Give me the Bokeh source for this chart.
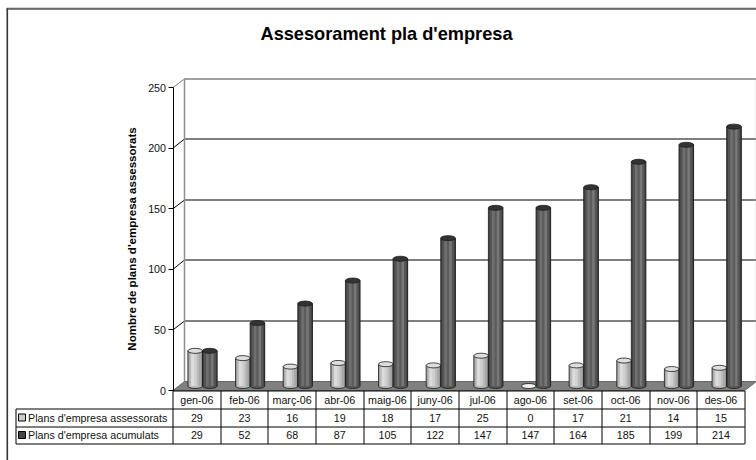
from bokeh.plotting import figure
from bokeh.models import LinearAxis, FixedTicker, Range1d, ColumnDataSource
from bokeh.core.properties import value
from bokeh.embed import file_html
from bokeh.resources import INLINE

months = ["gen-06", "feb-06", "març-06", "abr-06", "maig-06", "juny-06",
          "jul-06", "ago-06", "set-06", "oct-06", "nov-06", "des-06"]
assessorats = [29, 23, 16, 19, 18, 17, 25, 0, 17, 21, 14, 15]
acumulats = [29, 52, 68, 87, 105, 122, 147, 147, 164, 185, 199, 214]
y_ticks = [0, 50, 100, 150, 200, 250]
series_names = ["Plans d'empresa assessorats", "Plans d'empresa acumulats"]

FONT = value("Liberation Sans")
W, H = 756, 460
X0, XS = 172.5, 47.65      # page px of month 0, px per month
Y0, YS = 390.0, 1.212      # page px of value 0, px per unit


def ux(px):
    return (px - X0) / XS


def uy(py):
    return (Y0 - py) / YS


def snap_y(v):
    """Value to the centre of the nearest pixel row, for crisp one-pixel lines."""
    return uy(int(Y0 - v * YS) + 0.5)


def snap_x(u):
    return ux(int(X0 + u * XS) + 0.5)


p = figure(width=W, height=H, output_backend="svg", toolbar_location=None,
           x_axis_location=None, y_axis_location=None,
           x_range=Range1d(ux(0), ux(W)), y_range=Range1d(uy(H), uy(0)),
           min_border=0, outline_line_color=None)
p.grid.visible = False

DX, DY = 11.5, 9.0  # 3-D depth in px
back_x = X0 + DX
right_front = X0 + 12 * XS
right_back = right_front + DX


def seg(x0, y0, x1, y1, color="black", w=1.0):
    p.segment([x0], [y0], [x1], [y1], line_color=color, line_width=w)


# frame of the chart area
seg(ux(6), uy(7.5), ux(W), uy(7.5), "#aaaaaa", 1)
seg(ux(6), uy(8.5), ux(W), uy(8.5), "black", 1)
seg(ux(6.8), uy(8), ux(6.8), uy(H), "#333333", 1.6)

# walls
for t in y_ticks[1:]:
    top = t == y_ticks[-1]
    c = "#808080" if top else "black"
    yb = snap_y(t + DY / YS)
    seg(0, t, ux(back_x), yb, c, 1)
    seg(ux(back_x), yb, ux(right_back), yb, c, 1.4 if top else 1)
seg(ux(back_x), y_ticks[-1] + DY / YS, ux(back_x), DY / YS, "#909090", 1.5)
seg(ux(right_back), y_ticks[-1] + DY / YS, ux(right_back), DY / YS, "#b0b0b0", 1)

# floor
p.patch([0, 12, ux(right_back), ux(back_x)], [0, 0, DY / YS, DY / YS],
        fill_color="#808080", line_color="#666666", line_width=1)

# cylinders
LIGHT = [(0.00, "#a0a0a0"), (0.10, "#bcbcbc"), (0.22, "#dcdcdc"), (0.42, "#d0d0d0"),
         (0.60, "#bcbcbc"), (0.75, "#a8a8a8"), (0.90, "#949494")]
DARK = [(0.00, "#404040"), (0.10, "#555555"), (0.25, "#707070"), (0.42, "#5c5c5c"),
        (0.58, "#787878"), (0.75, "#565656"), (0.90, "#444444")]
BW = 14.6 / XS
BASE = 4.5 / YS
EH = 5.0 / YS
EDGE = "#1a1a1a"


def cylinder(xc, v, stops, top_color, base_color):
    left = xc - BW / 2
    top = v + BASE
    p.ellipse([xc], [BASE], width=BW, height=EH, fill_color=base_color,
              line_color=EDGE, line_width=0.8)
    for f, col in stops:
        p.quad(left=[left + f * BW], right=[left + BW], bottom=[BASE], top=[top],
               fill_color=col, line_color=None)
    p.segment([left, left + BW], [BASE, BASE], [left, left + BW], [top, top],
              line_color=EDGE, line_width=0.8)
    p.ellipse([xc], [top], width=BW, height=EH, fill_color=top_color,
              line_color=EDGE, line_width=0.8)


for i in range(len(months)):
    if assessorats[i] > 0:
        cylinder(i + 0.466, assessorats[i], LIGHT, "#dedede", "#b8b8b8")
    else:
        p.ellipse([i + 0.466], [BASE], width=BW, height=EH, fill_color="#f0f0f0",
                  line_color=EDGE, line_width=0.8)
    cylinder(i + 0.772, acumulats[i], DARK, "#333333", "#585858")

# table
rows = [390, 408, 426, 443]
tbl_left = 15.5
ys = [uy(r + 0.5) for r in rows]
seg(0, ys[0], 12, ys[0], "black", 1)
for y in ys[1:]:
    seg(ux(tbl_left), y, 12, y, "black", 1)
seg(ux(tbl_left), ys[1], ux(tbl_left), ys[3], "black", 1)
for i in range(13):
    seg(snap_x(i), ys[0], snap_x(i), ys[3], "black", 1)

cols = list(range(len(months)))
for labels, r in [(months, 0), (assessorats, 1), (acumulats, 2)]:
    src = ColumnDataSource(dict(x=[c + 0.5 for c in cols], y=[uy((rows[r] + rows[r + 1]) / 2)] * 12,
                                t=[str(v) for v in labels]))
    p.text("x", "y", text="t", source=src, text_font=FONT, text_font_size="10.7px",
           text_align="center", text_baseline="middle", text_color="#111111")

for r, (name, col) in enumerate(zip(series_names, ["#cccccc", "#444444"])):
    yc = uy((rows[r + 1] + rows[r + 2]) / 2)
    p.quad(left=[ux(18)], right=[ux(25)], top=[yc + 3.5 / YS], bottom=[yc - 3.5 / YS],
           fill_color=col, line_color="black", line_width=1)
    p.text([ux(27.5)], [yc], text=[name], text_font=FONT, text_font_size="10.7px",
           text_align="left", text_baseline="middle", text_color="#111111")

# title
p.text([ux(386)], [uy(33)], text=["Assesorament pla d'empresa"], text_font=FONT,
       text_font_size="18.2px", text_font_style="bold", text_align="center",
       text_baseline="middle", text_color="black")

# value axis
ax = LinearAxis(fixed_location=0, bounds=(0, 250), ticker=FixedTicker(ticks=y_ticks),
                axis_line_color="black", major_tick_line_color="black",
                major_tick_in=0, major_tick_out=5, minor_tick_line_color=None,
                major_label_text_font="Liberation Sans", major_label_text_font_size="10.7px",
                major_label_text_color="#111111", major_label_standoff=2,
                axis_label="Nombre de plans d'empresa assessorats",
                axis_label_text_font="Liberation Sans", axis_label_text_font_size="11.5px",
                axis_label_text_font_style="bold", axis_label_text_color="black",
                axis_label_standoff=8)
p.add_layout(ax, "left")

open("out.html", "w").write(file_html(p, INLINE))
